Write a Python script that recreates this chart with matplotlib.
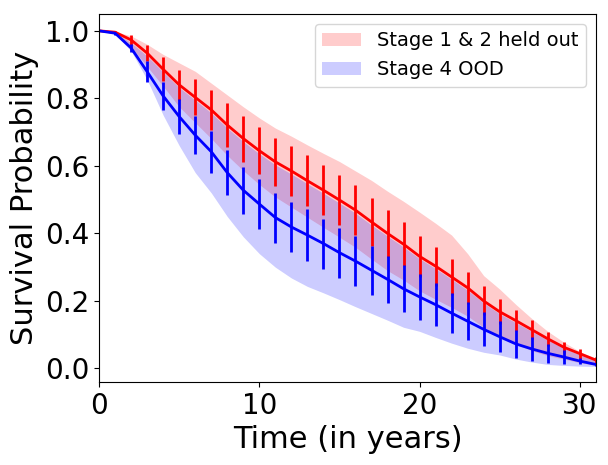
import numpy as np
import matplotlib.pyplot as plt

# time in years
years = np.arange(0, 32)

# Stage 1 & 2 held out (red)
red_mean = [1.0, 0.996, 0.973, 0.934, 0.886, 0.840, 0.803, 0.766, 0.721, 0.681,
            0.645, 0.612, 0.585, 0.556, 0.528, 0.499, 0.469, 0.434, 0.400, 0.368,
            0.332, 0.303, 0.271, 0.239, 0.200, 0.168, 0.142, 0.115, 0.088, 0.063,
            0.044, 0.025]
red_err = [0.0, 0.004, 0.014, 0.023, 0.036, 0.045, 0.053, 0.060, 0.065, 0.068,
           0.070, 0.072, 0.074, 0.075, 0.074, 0.075, 0.074, 0.072, 0.069, 0.065,
           0.060, 0.058, 0.054, 0.047, 0.043, 0.037, 0.032, 0.028, 0.021, 0.016,
           0.015, 0.010]
red_upper = [1.0, 0.998, 0.985, 0.960, 0.930, 0.905, 0.880, 0.845, 0.810, 0.775,
             0.742, 0.712, 0.688, 0.662, 0.637, 0.613, 0.585, 0.557, 0.525, 0.495,
             0.463, 0.430, 0.395, 0.340, 0.275, 0.235, 0.190, 0.148, 0.110, 0.078,
             0.050, 0.030]
red_lower = [1.0, 0.991, 0.953, 0.894, 0.836, 0.775, 0.728, 0.681, 0.631, 0.586,
             0.545, 0.508, 0.478, 0.448, 0.418, 0.389, 0.359, 0.324, 0.290, 0.262,
             0.230, 0.205, 0.181, 0.155, 0.122, 0.095, 0.072, 0.053, 0.038, 0.028,
             0.017, 0.010]

# Stage 4 OOD (blue)
blue_mean = [1.0, 0.993, 0.949, 0.879, 0.807, 0.746, 0.691, 0.642, 0.580, 0.528,
             0.487, 0.447, 0.419, 0.395, 0.370, 0.343, 0.318, 0.291, 0.264, 0.236,
             0.212, 0.189, 0.164, 0.140, 0.116, 0.094, 0.073, 0.058, 0.045, 0.034,
             0.022, 0.012]
blue_err = [0.0, 0.004, 0.012, 0.031, 0.042, 0.052, 0.056, 0.062, 0.067, 0.069,
            0.075, 0.074, 0.075, 0.076, 0.074, 0.074, 0.074, 0.072, 0.070, 0.070,
            0.067, 0.063, 0.059, 0.056, 0.050, 0.046, 0.042, 0.035, 0.029, 0.021,
            0.010, 0.005]
blue_upper = [1.0, 0.994, 0.965, 0.925, 0.878, 0.832, 0.795, 0.757, 0.712, 0.672,
              0.636, 0.603, 0.576, 0.547, 0.519, 0.490, 0.460, 0.425, 0.392, 0.360,
              0.325, 0.296, 0.264, 0.232, 0.194, 0.162, 0.136, 0.110, 0.084, 0.060,
              0.041, 0.023]
blue_lower = [1.0, 0.990, 0.940, 0.855, 0.750, 0.660, 0.580, 0.520, 0.450, 0.390,
              0.340, 0.300, 0.268, 0.243, 0.224, 0.204, 0.183, 0.163, 0.143, 0.122,
              0.110, 0.092, 0.075, 0.060, 0.048, 0.040, 0.028, 0.019, 0.012, 0.009,
              0.007, 0.006]

fig = plt.figure(figsize=(6.08, 4.65), dpi=100)
ax = fig.add_subplot(111)
fig.subplots_adjust(left=0.163, right=0.980, top=0.970, bottom=0.1785)

ax.fill_between(years, red_lower, red_upper, color='red', alpha=0.2, linewidth=0,
                label='Stage 1 & 2 held out')
ax.fill_between(years, blue_lower, blue_upper, color='blue', alpha=0.2, linewidth=0,
                label='Stage 4 OOD')
ax.errorbar(years, red_mean, yerr=red_err, color='red', linewidth=2, elinewidth=2)
ax.errorbar(years, blue_mean, yerr=blue_err, color='blue', linewidth=2, elinewidth=2)

ax.set_xlim(0, 31)
ax.set_ylim(-0.04, 1.05)
ax.set_xticks([0, 10, 20, 30])
ax.set_yticks([0.0, 0.2, 0.4, 0.6, 0.8, 1.0])
ax.tick_params(labelsize=20)
ax.set_xlabel('Time (in years)', fontsize=22)
ax.set_ylabel('Survival Probability', fontsize=22)
ax.legend(loc='upper right', fontsize=14)

plt.savefig('out.png')
